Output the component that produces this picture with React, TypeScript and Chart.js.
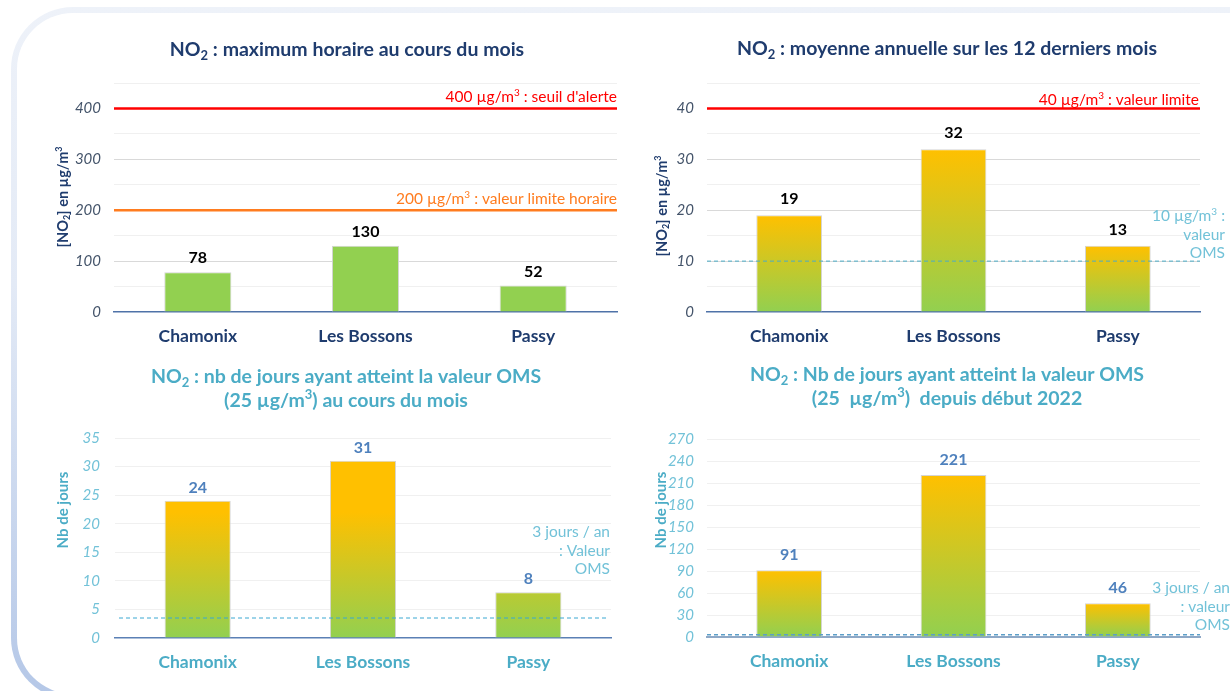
import React, { useEffect, useRef } from "react";
import { Chart, registerables } from "chart.js";

Chart.register(...registerables);

// ---------- DATA ----------
const CATEGORIES = ["Chamonix", "Les Bossons", "Passy"];
const NO2_MAX_HORAIRE = [78, 130, 52];
const NO2_MOYENNE_ANNUELLE = [19, 32, 13];
const JOURS_OMS_MOIS = [24, 31, 8];
const JOURS_OMS_DEPUIS_2022 = [91, 221, 46];

const Y1_TICK_LABELS = [0, 100, 200, 300, 400];
const Y2_TICK_LABELS = [0, 10, 20, 30, 40];
const Y3_TICK_LABELS = [0, 5, 10, 15, 20, 25, 30, 35];
const Y4_TICK_LABELS = [0, 30, 60, 90, 120, 150, 180, 210, 240, 270];

const SEUIL_ALERTE = 400;
const VALEUR_LIMITE_HORAIRE = 200;
const VALEUR_LIMITE_ANNUELLE = 40;
const VALEUR_OMS_ANNUELLE = 10;
const JOURS_OMS_MOIS_LIMITE = 3.5;
const JOURS_OMS_AN_LIMITE = 3;

// ---------- STYLE ----------
const W = 1230;
const H = 691;
const FAMILY = "Lato, 'Open Sans', sans-serif";
const NAVY = "#1f3c6e";
const TEAL = "#4bacc6";
const TEAL_LIGHT = "#72c2d8";
const GREEN = "#92d050";
const YELLOW = "#ffc000";

type Seg = { t: string; sub?: boolean; sup?: boolean };

function parseRich(s: string): Seg[] {
  const out: Seg[] = [];
  const re = /([_^])\{([^}]*)\}/g;
  let last = 0;
  let m: RegExpExecArray | null;
  while ((m = re.exec(s))) {
    if (m.index > last) out.push({ t: s.slice(last, m.index) });
    out.push(m[1] === "_" ? { t: m[2], sub: true } : { t: m[2], sup: true });
    last = m.index + m[0].length;
  }
  if (last < s.length) out.push({ t: s.slice(last) });
  return out;
}

function drawRich(
  ctx: CanvasRenderingContext2D,
  text: string,
  x: number,
  y: number,
  align: "left" | "center" | "right",
  size: number,
  weight: string,
  color: string,
  style = "normal"
) {
  const segs = parseRich(text);
  const fontFor = (s: Seg) =>
    `${style} ${weight} ${s.sub || s.sup ? Math.round(size * 0.65) : size}px ${FAMILY}`;
  let total = 0;
  const widths = segs.map((s) => {
    ctx.font = fontFor(s);
    const w = ctx.measureText(s.t).width;
    total += w;
    return w;
  });
  let cx = align === "center" ? x - total / 2 : align === "right" ? x - total : x;
  ctx.fillStyle = color;
  ctx.textBaseline = "middle";
  ctx.textAlign = "left";
  segs.forEach((s, i) => {
    ctx.font = fontFor(s);
    const dy = s.sub ? size * 0.28 : s.sup ? -size * 0.3 : 0;
    ctx.fillText(s.t, cx, y + dy);
    cx += widths[i];
  });
}

type LineSpec = {
  value: number;
  color: string;
  width: number;
  dash?: number[];
  inset?: number;
  label: string[];
  labelColor: string;
  labelRight: number;
  labelY: number;
};

type Spec = {
  values: number[];
  area: { left: number; top: number; right: number; bottom: number };
  max: number;
  step: number;
  tickLabels: number[];
  majorGrid: (v: number) => string;
  tickColor: string;
  tickPadding: number;
  catColor: string;
  axisColor: string;
  axisWidth: number;
  fill: "flat" | "bar" | "area";
  gradientTop?: number;
  valueColor: string;
  valueOffset: number;
  title: string[];
  titleColor: string;
  titleX: number;
  titleY: number;
  yTitle: string;
  yTitleSize: number;
  yTitleX: number;
  yTitleY: number;
  lines: LineSpec[];
};

const lightGrid = "#f0f0f0";

const SPECS: Spec[] = [
  {
    values: NO2_MAX_HORAIRE,
    area: { left: 114, top: 83, right: 617, bottom: 312 },
    max: 450,
    step: 50,
    tickLabels: Y1_TICK_LABELS,
    majorGrid: (v) => (v % 100 === 0 ? "#d9d9d9" : lightGrid),
    tickColor: "#44546a",
    tickPadding: 13,
    catColor: NAVY,
    axisColor: "#4f72a8",
    axisWidth: 1.5,
    fill: "flat",
    valueColor: "#000000",
    valueOffset: 14,
    title: ["NO_{2} : maximum horaire au cours du mois"],
    titleColor: NAVY,
    titleX: 347,
    titleY: 50,
    yTitle: "[NO_{2}] en µg/m^{3}",
    yTitleSize: 14.5,
    yTitleX: 63,
    yTitleY: 197,
    lines: [
      {
        value: SEUIL_ALERTE,
        color: "#ff0000",
        width: 2.5,
        label: ["400 µg/m^{3} : seuil d'alerte"],
        labelColor: "#ff0000",
        labelRight: 617,
        labelY: 97,
      },
      {
        value: VALEUR_LIMITE_HORAIRE,
        color: "#ff7c1f",
        width: 2.5,
        label: ["200 µg/m^{3} : valeur limite horaire"],
        labelColor: "#ff7c1f",
        labelRight: 617,
        labelY: 199,
      },
    ],
  },
  {
    values: NO2_MOYENNE_ANNUELLE,
    area: { left: 707, top: 83, right: 1200, bottom: 312 },
    max: 45,
    step: 5,
    tickLabels: Y2_TICK_LABELS,
    majorGrid: (v) => (v % 10 === 0 ? "#d9d9d9" : lightGrid),
    tickColor: "#44546a",
    tickPadding: 13,
    catColor: NAVY,
    axisColor: "#4f72a8",
    axisWidth: 1.5,
    fill: "bar",
    valueColor: "#000000",
    valueOffset: 16,
    title: ["NO_{2} : moyenne annuelle sur les 12 derniers mois"],
    titleColor: NAVY,
    titleX: 947,
    titleY: 49,
    yTitle: "[NO_{2}] en µg/m^{3}",
    yTitleSize: 14.5,
    yTitleX: 662,
    yTitleY: 206,
    lines: [
      {
        value: VALEUR_LIMITE_ANNUELLE,
        color: "#ff0000",
        width: 2.5,
        label: ["40 µg/m^{3} : valeur limite"],
        labelColor: "#ff0000",
        labelRight: 1199,
        labelY: 100,
      },
      {
        value: VALEUR_OMS_ANNUELLE,
        color: "#4bacc6",
        width: 1,
        dash: [4, 3],
        label: ["10 µg/m^{3} :", "valeur", "OMS"],
        labelColor: TEAL_LIGHT,
        labelRight: 1225,
        labelY: 216,
      },
    ],
  },
  {
    values: JOURS_OMS_MOIS,
    area: { left: 115, top: 438, right: 611, bottom: 638 },
    max: 35,
    step: 5,
    tickLabels: Y3_TICK_LABELS,
    majorGrid: () => lightGrid,
    tickColor: TEAL_LIGHT,
    tickPadding: 15,
    catColor: TEAL,
    axisColor: "#5b80b5",
    axisWidth: 1.5,
    fill: "area",
    gradientTop: 22,
    valueColor: "#4f81bd",
    valueOffset: 13,
    title: ["NO_{2} : nb de jours ayant atteint la valeur OMS", "(25 µg/m^{3}) au cours du mois"],
    titleColor: TEAL,
    titleX: 346,
    titleY: 377,
    yTitle: "Nb de jours",
    yTitleSize: 15,
    yTitleX: 63,
    yTitleY: 510,
    lines: [
      {
        value: JOURS_OMS_MOIS_LIMITE,
        color: "#3aa8d2",
        width: 1,
        dash: [4, 3],
        inset: 4,
        label: ["3 jours / an", ": Valeur", "OMS"],
        labelColor: TEAL_LIGHT,
        labelRight: 610,
        labelY: 532,
      },
    ],
  },
  {
    values: JOURS_OMS_DEPUIS_2022,
    area: { left: 707, top: 439, right: 1200, bottom: 637 },
    max: 270,
    step: 30,
    tickLabels: Y4_TICK_LABELS,
    majorGrid: () => lightGrid,
    tickColor: TEAL_LIGHT,
    tickPadding: 13,
    catColor: TEAL,
    axisColor: "#8ea8c6",
    axisWidth: 2,
    fill: "bar",
    valueColor: "#4f81bd",
    valueOffset: 15,
    title: ["NO_{2} : Nb de jours ayant atteint la valeur OMS", "(25  µg/m^{3})  depuis début 2022"],
    titleColor: TEAL,
    titleX: 947,
    titleY: 375,
    yTitle: "Nb de jours",
    yTitleSize: 15,
    yTitleX: 661,
    yTitleY: 510,
    lines: [
      {
        value: JOURS_OMS_AN_LIMITE,
        color: "#5c9ec8",
        width: 1.5,
        dash: [4, 3],
        label: ["3 jours / an", ": valeur", "OMS"],
        labelColor: TEAL_LIGHT,
        labelRight: 1230,
        labelY: 588,
      },
    ],
  },
];

function overlayPlugin(spec: Spec) {
  return {
    id: "overlay",
    afterDatasetsDraw(chart: any) {
      const { ctx, chartArea } = chart;
      const y = chart.scales.y;
      spec.lines.forEach((l) => {
        const py = y.getPixelForValue(l.value);
        ctx.save();
        ctx.strokeStyle = l.color;
        ctx.lineWidth = l.width;
        ctx.setLineDash(l.dash || []);
        ctx.beginPath();
        ctx.moveTo(chartArea.left + (l.inset || 0), py);
        ctx.lineTo(chartArea.right - (l.inset || 0), py);
        ctx.stroke();
        ctx.restore();
        ctx.save();
        l.label.forEach((txt, i) => {
          drawRich(ctx, txt, l.labelRight, l.labelY + i * 18.5, "right", 15.5, "normal", l.labelColor);
        });
        ctx.restore();
      });
      const meta = chart.getDatasetMeta(0);
      ctx.save();
      meta.data.forEach((el: any, i: number) => {
        ctx.font = `bold 16px ${FAMILY}`;
        ctx.fillStyle = spec.valueColor;
        ctx.textAlign = "center";
        ctx.textBaseline = "middle";
        ctx.fillText(String(spec.values[i]), el.x, el.y - spec.valueOffset);
      });
      ctx.restore();
    },
    afterDraw(chart: any) {
      const { ctx } = chart;
      ctx.save();
      spec.title.forEach((t, i) => {
        drawRich(ctx, t, spec.titleX, spec.titleY + i * 24, "center", 19.5, "bold", spec.titleColor);
      });
      ctx.restore();
      ctx.save();
      ctx.translate(spec.yTitleX, spec.yTitleY);
      ctx.rotate(-Math.PI / 2);
      drawRich(ctx, spec.yTitle, 0, 0, "center", spec.yTitleSize, "bold", spec.titleColor);
      ctx.restore();
    },
  };
}

function barFill(spec: Spec) {
  return (c: any) => {
    if (spec.fill === "flat") return GREEN;
    const chart = c.chart;
    const y = chart.scales.y;
    if (!y || c.parsed == null) return GREEN;
    const g = chart.ctx;
    const base = y.getPixelForValue(0);
    const top =
      spec.fill === "area" ? y.getPixelForValue(spec.gradientTop || 0) : y.getPixelForValue(c.parsed.y);
    if (!isFinite(base) || !isFinite(top) || base === top) return GREEN;
    const grad = g.createLinearGradient(0, base, 0, top);
    grad.addColorStop(0, GREEN);
    grad.addColorStop(1, YELLOW);
    return grad;
  };
}

function buildConfig(spec: Spec): any {
  return {
    type: "bar",
    data: {
      labels: CATEGORIES,
      datasets: [
        {
          data: spec.values,
          backgroundColor: barFill(spec),
          borderColor: "#d4d4d4",
          borderWidth: 1,
          barPercentage: 0.4,
          categoryPercentage: 1,
        },
      ],
    },
    options: {
      animation: false,
      responsive: false,
      devicePixelRatio: 1,
      events: [],
      layout: {
        padding: { left: 0, top: spec.area.top, right: W - spec.area.right, bottom: 0 },
      },
      plugins: {
        legend: { display: false },
        tooltip: { enabled: false },
        title: { display: false },
      },
      scales: {
        x: {
          grid: { display: false, drawTicks: false },
          border: { display: true, color: spec.axisColor, width: spec.axisWidth },
          ticks: {
            color: spec.catColor,
            font: { family: FAMILY, size: 17.5, weight: "bold" },
            padding: 14,
          },
          afterFit: (s: any) => {
            s.height = H - spec.area.bottom;
          },
        },
        y: {
          min: 0,
          max: spec.max,
          border: { display: false },
          grid: {
            drawTicks: false,
            lineWidth: 1,
            color: (c: any) => (c.tick && c.tick.value === 0 ? "rgba(0,0,0,0)" : spec.majorGrid(c.tick.value)),
          },
          ticks: {
            stepSize: spec.step,
            autoSkip: false,
            padding: spec.tickPadding,
            color: spec.tickColor,
            font: { family: FAMILY, size: 15, style: "italic" },
            callback: (v: any) => (spec.tickLabels.includes(Number(v)) ? String(v) : ""),
          },
          afterFit: (s: any) => {
            s.width = spec.area.left;
          },
        },
      },
    },
    plugins: [overlayPlugin(spec)],
  };
}

function ChartCanvas({ spec }: { spec: Spec }) {
  const ref = useRef<HTMLCanvasElement>(null);
  useEffect(() => {
    const chart = new Chart(ref.current as HTMLCanvasElement, buildConfig(spec));
    return () => chart.destroy();
  }, [spec]);
  return (
    <canvas
      ref={ref}
      width={W}
      height={H}
      style={{ position: "absolute", left: 0, top: 0, width: W, height: H }}
    />
  );
}

export default function App() {
  return (
    <div
      style={{
        position: "fixed",
        left: 0,
        top: 0,
        width: W,
        height: H,
        overflow: "hidden",
        background: "#ffffff",
      }}
    >
      <div
        style={{
          position: "absolute",
          left: 11,
          top: 7,
          width: 1400,
          height: 693,
          borderRadius: 62,
          padding: 6,
          boxSizing: "border-box",
          background: "linear-gradient(to bottom, #eef2f9 0%, #e3eaf6 40%, #b4c7e7 100%)",
        }}
      >
        <div style={{ width: "100%", height: "100%", borderRadius: 56, background: "#ffffff" }} />
      </div>
      {SPECS.map((s, i) => (
        <ChartCanvas key={i} spec={s} />
      ))}
    </div>
  );
}
